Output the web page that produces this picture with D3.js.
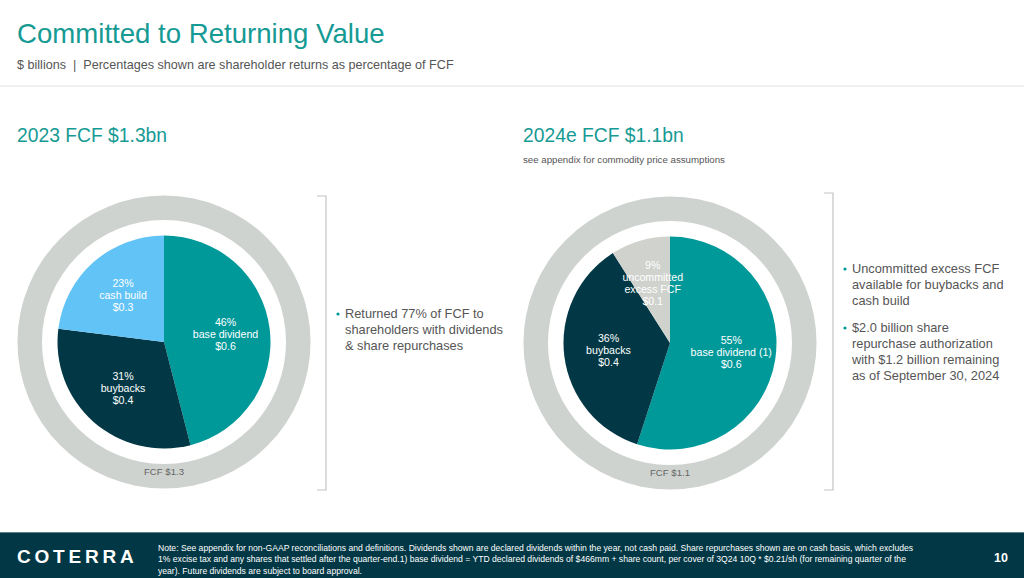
<!DOCTYPE html>
<html>
<head>
<meta charset="utf-8">
<script src="https://cdn.jsdelivr.net/npm/d3@7"></script>
<style>
  html, body { margin: 0; padding: 0; background: #fff; }
  svg { display: block; font-family: "Liberation Sans", Arial, sans-serif; }
</style>
</head>
<body>
<svg id="chart" width="1024" height="578"></svg>
<script>
// ---- data ----
const pie2023Labels = ["base dividend", "buybacks", "cash build"];
const pie2023Pct = [46, 31, 23];
const pie2023Values = ["$0.6", "$0.4", "$0.3"];
const pie2024Labels = ["base dividend (1)", "buybacks", "uncommitted\nexcess FCF"];
const pie2024Pct = [55, 36, 9];
const pie2024Values = ["$0.6", "$0.4", "$0.1"];
const ringLabels = ["FCF $1.3", "FCF $1.1"];
const sectionTitles = ["2023 FCF $1.3bn", "2024e FCF $1.1bn"];
const bullets2023 = [["Returned 77% of FCF to", "shareholders with dividends", "& share repurchases"]];
const bullets2024 = [["Uncommitted excess FCF", "available for buybacks and", "cash build"],
                     ["$2.0 billion share", "repurchase authorization", "with $1.2 billion remaining", "as of September 30, 2024"]];
const footNote = [
  "Note: See appendix for non-GAAP reconciliations and definitions. Dividends shown are declared dividends within the year, not cash paid. Share repurchases shown are on cash basis, which excludes",
  "1% excise tax and any shares that settled after the quarter-end.1) base dividend = YTD declared dividends of $466mm + share count, per cover of 3Q24 10Q * $0.21/sh (for remaining quarter of the",
  "year). Future dividends are subject to board approval."
];

const TEAL = "#00999a", DARK = "#023845", LIGHT = "#62c3f7", GREY = "#cfd3cf", TITLE = "#169a94";

const svg = d3.select("#chart");

// header
svg.append("text").attr("x", 17).attr("y", 43).attr("fill", TITLE)
  .attr("font-size", 27.6).text("Committed to Returning Value");
svg.append("text").attr("x", 17).attr("y", 69).attr("fill", "#555")
  .attr("font-size", 12.6).text("$ billions\u00a0\u00a0|\u00a0\u00a0Percentages shown are shareholder returns as percentage of FCF");
svg.append("rect").attr("x", 0).attr("y", 85).attr("width", 1024).attr("height", 2).attr("fill", "#f0f1f0");

// section titles
[17, 523].forEach((x, i) => {
  svg.append("text").attr("x", x).attr("y", 142).attr("fill", TITLE)
    .attr("font-size", 19.3).text(sectionTitles[i]);
});
svg.append("text").attr("x", 523).attr("y", 163).attr("fill", "#555")
  .attr("font-size", 9.7).text("see appendix for commodity price assumptions");

function drawPie(cx, cy, labels, pcts, vals, colors, ringLabel) {
  const g = svg.append("g").attr("transform", `translate(${cx},${cy})`);
  const ring = d3.arc().innerRadius(122).outerRadius(146.5).startAngle(0).endAngle(2 * Math.PI);
  g.append("path").attr("d", ring()).attr("fill", GREY);
  const pie = d3.pie().sort(null).value(d => d)(pcts);
  const arc = d3.arc().innerRadius(0).outerRadius(106.5);
  g.selectAll("path.slice").data(pie).enter().append("path").attr("class", "slice")
    .attr("d", arc).attr("fill", (d, i) => colors[i]);
  const lab = d3.arc().innerRadius(62).outerRadius(62);
  pie.forEach((d, i) => {
    const [x, y] = lab.centroid(d);
    const lines = [pcts[i] + "%"].concat(labels[i].split("\n")).concat([vals[i]]);
    const lh = 11.8;
    const t = g.append("text").attr("text-anchor", "middle").attr("fill", "#fff")
      .attr("font-size", 10.6);
    lines.forEach((ln, k) => {
      t.append("tspan").attr("x", x).attr("y", y + (k - (lines.length - 1) / 2) * lh + 3.5).text(ln);
    });
  });
  g.append("text").attr("x", 0).attr("y", 133).attr("text-anchor", "middle")
    .attr("fill", "#666").attr("font-size", 9.6).text(ringLabel);
}

drawPie(164, 342, pie2023Labels, pie2023Pct, pie2023Values, [TEAL, DARK, LIGHT], ringLabels[0]);
drawPie(670, 343, pie2024Labels, pie2024Pct, pie2024Values, [TEAL, DARK, "#d0d2ce"], ringLabels[1]);

// brackets
function bracket(x, y0, y1) {
  svg.append("path").attr("d", `M${x - 9},${y0} H${x} V${y1} H${x - 9}`)
    .attr("fill", "none").attr("stroke", "#c4c4c4").attr("stroke-width", 1.2);
}
bracket(326, 196, 490);
bracket(833, 193, 490);

function bulletList(x, y, groups) {
  let yy = y;
  groups.forEach(lines => {
    svg.append("circle").attr("cx", x + 2).attr("cy", yy - 4).attr("r", 1.6).attr("fill", TEAL);
    lines.forEach((ln, k) => {
      svg.append("text").attr("x", x + 9).attr("y", yy).attr("fill", "#555")
        .attr("font-size", 12.8).text(ln);
      yy += 16;
    });
    yy += 11;
  });
}
bulletList(336, 318, bullets2023);
bulletList(843, 273, bullets2024);

// footer
svg.append("rect").attr("x", 0).attr("y", 532).attr("width", 1024).attr("height", 46).attr("fill", "#023845");
svg.append("rect").attr("x", 0).attr("y", 532).attr("width", 1024).attr("height", 1).attr("fill", "#5a7f88");
svg.append("text").attr("x", 17).attr("y", 563).attr("fill", "#fff")
  .attr("font-size", 19).attr("font-weight", "bold").attr("letter-spacing", 3.8).text("COTERRA");
footNote.forEach((ln, i) => {
  svg.append("text").attr("x", 158).attr("y", 551 + i * 11.3).attr("fill", "#fff")
    .attr("font-size", 8.6).text(ln);
});
svg.append("text").attr("x", 1008).attr("y", 562).attr("text-anchor", "end").attr("fill", "#fff")
  .attr("font-size", 12.5).attr("font-weight", "bold").text("10");
</script>
</body>
</html>
